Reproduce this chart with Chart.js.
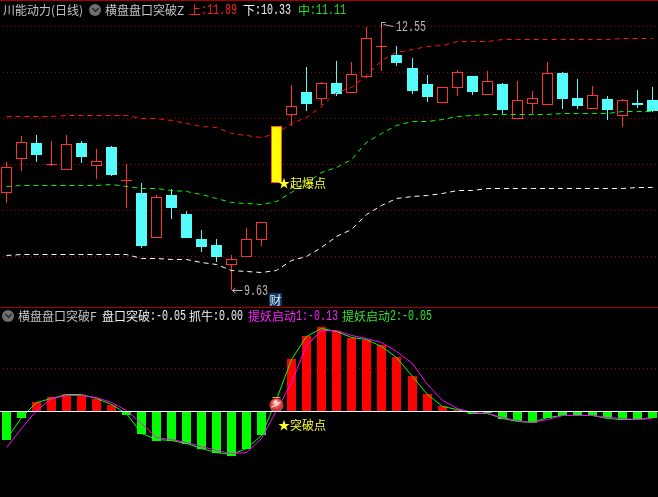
<!DOCTYPE html>
<html><head><meta charset="utf-8">
<script src="https://cdn.jsdelivr.net/npm/chart.js@4"></script>
<style>
html,body{margin:0;padding:0;background:#000;width:658px;height:497px;overflow:hidden}
canvas{position:absolute;left:-2px;display:block}
.t{position:absolute;font:12px/14px "Noto Sans CJK SC",sans-serif;white-space:pre}
.m{font:14px/14px "Liberation Mono",monospace;transform:scaleX(.715);transform-origin:0 50%}
.rule{position:absolute;left:0;width:658px;height:1px;background:#a80000}
.ico{position:absolute;width:12px;height:12px;border-radius:50%;background:#6e6e6e}
.ico:after{content:"";position:absolute;left:3.5px;top:2px;width:4px;height:4px;border-right:1.4px solid #111;border-bottom:1.4px solid #111;transform:rotate(45deg)}
</style></head><body>
<canvas id="price" width="664" height="307" style="top:0"></canvas>
<canvas id="osc" width="664" height="189" style="top:308px"></canvas>
<div class="rule" style="top:0"></div><div class="rule" style="top:307px"></div>

<span class="t" style="left:3px;top:3px;color:#c4c4c4">川能动力(日线)</span>
<div class="ico" style="left:89px;top:4px"></div>
<span class="t" style="left:105px;top:3px;color:#c4c4c4">横盘盘口突破Z</span>
<span class="t" style="left:189px;top:3px;color:#ff2020">上</span><span class="t m" style="left:201px;top:3px;color:#ff2020">:11.89</span>
<span class="t" style="left:243px;top:3px;color:#f0f0f0">下</span><span class="t m" style="left:255px;top:3px;color:#f0f0f0">:10.33</span>
<span class="t" style="left:298px;top:3px;color:#20e020">中</span><span class="t m" style="left:310px;top:3px;color:#20e020">:11.11</span>
<span class="t m" style="left:396px;top:20px;color:#b8b8b8">12.55</span>
<span class="t m" style="left:244px;top:284px;color:#b8b8b8">9.63</span>
<span class="t" style="left:269px;top:293px;width:13px;height:13px;line-height:13px;text-align:center;background:#0a3a6e;color:#e8e8e8">财</span>
<span class="t" style="left:278px;top:176px;color:#ffff30">★起爆点</span>

<div class="ico" style="left:2px;top:310px"></div>
<span class="t" style="left:18px;top:309px;color:#c4c4c4">横盘盘口突破F</span>
<span class="t" style="left:102px;top:309px;color:#f0f0f0">盘口突破</span><span class="t m" style="left:150px;top:309px;color:#f0f0f0">:-0.05</span>
<span class="t" style="left:189px;top:309px;color:#f0f0f0">抓牛</span><span class="t m" style="left:213px;top:309px;color:#f0f0f0">:0.00</span>
<span class="t" style="left:248px;top:309px;color:#ff20ff">提妖启动</span><span class="t m" style="left:296px;top:309px;color:#ff20ff">1:-0.13</span>
<span class="t" style="left:342px;top:309px;color:#30e030">提妖启动</span><span class="t m" style="left:390px;top:309px;color:#30e030">2:-0.05</span>
<span class="t" style="left:278px;top:418px;color:#ffff30">★突破点</span>

<script>
const highs =[11.03,11.31,11.32,11.25,11.32,11.25,11.17,11.20,11.00,10.80,10.67,10.73,10.49,10.29,10.19,10.01,10.31,10.37,11.42,11.86,12.06,11.90,12.12,12.11,12.49,12.55,12.29,12.16,11.97,11.84,12.03,11.96,12.01,11.88,11.91,11.80,12.11,12.00,11.93,11.85,11.74,11.71,11.81,11.84];
const lows  =[10.58,10.93,11.03,10.98,10.94,11.01,10.84,10.87,10.53,10.09,10.20,10.41,10.20,10.05,9.94,9.63,9.99,10.11,10.80,11.42,11.58,11.64,11.74,11.77,11.94,12.01,12.07,11.76,11.68,11.67,11.74,11.75,11.75,11.55,11.49,11.55,11.64,11.60,11.60,11.60,11.48,11.41,11.61,11.57];
const opens =[10.69,11.06,11.23,11.00,10.94,11.23,10.98,11.19,10.83,10.69,10.20,10.67,10.46,10.19,10.12,9.91,9.99,10.18,10.80,11.54,11.79,11.71,11.88,11.77,11.95,12.29,12.19,12.05,11.87,11.67,11.83,11.96,11.75,11.87,11.49,11.66,11.65,11.99,11.72,11.60,11.71,11.53,11.67,11.70];
const closes=[10.97,11.24,11.10,11.00,11.22,11.08,11.04,10.88,10.83,10.11,10.65,10.53,10.20,10.10,9.99,9.97,10.19,10.37,11.42,11.63,11.66,11.88,11.76,11.98,12.37,12.29,12.10,11.80,11.73,11.84,12.00,11.79,11.91,11.59,11.70,11.72,11.99,11.71,11.63,11.75,11.59,11.70,11.65,11.58];
const upperBand=[11.52,11.52,11.52,11.52,11.53,11.53,11.53,11.53,11.53,11.50,11.50,11.48,11.44,11.41,11.40,11.33,11.31,11.29,11.33,11.44,11.51,11.63,11.78,11.84,11.97,12.13,12.22,12.25,12.28,12.29,12.33,12.34,12.34,12.36,12.36,12.36,12.36,12.36,12.36,12.36,12.36,12.37,12.37,12.37];
const middleBand=[10.76,10.77,10.77,10.77,10.77,10.77,10.77,10.78,10.76,10.74,10.74,10.72,10.70,10.67,10.63,10.58,10.57,10.56,10.60,10.69,10.79,10.91,10.97,11.05,11.24,11.34,11.42,11.46,11.47,11.49,11.52,11.53,11.54,11.54,11.54,11.54,11.54,11.55,11.55,11.55,11.55,11.57,11.57,11.57];
const lowerBand=[10.01,10.02,10.02,10.02,10.02,10.02,10.02,10.02,10.02,9.98,9.98,9.97,9.96,9.93,9.91,9.85,9.83,9.82,9.85,9.95,10.00,10.10,10.21,10.29,10.45,10.55,10.63,10.65,10.66,10.68,10.71,10.72,10.74,10.74,10.74,10.74,10.74,10.74,10.74,10.74,10.74,10.74,10.75,10.75];
const histogram=[-0.239,-0.058,0.075,0.117,0.147,0.139,0.103,0.05,-0.033,-0.192,-0.25,-0.244,-0.269,-0.317,-0.35,-0.375,-0.311,-0.2,0.05,0.433,0.625,0.7,0.669,0.614,0.597,0.55,0.45,0.292,0.142,0.042,0.014,-0.025,-0.017,-0.064,-0.083,-0.1,-0.053,-0.036,-0.039,-0.039,-0.058,-0.072,-0.067,-0.056];
const lineGreen=[-0.236,-0.053,0.075,0.106,0.139,0.139,0.111,0.056,-0.014,-0.186,-0.236,-0.242,-0.264,-0.308,-0.344,-0.361,-0.311,-0.2,0.103,0.431,0.625,0.692,0.669,0.614,0.597,0.542,0.447,0.292,0.142,0.042,0.019,-0.019,-0.019,-0.061,-0.081,-0.094,-0.047,-0.033,-0.036,-0.036,-0.058,-0.069,-0.067,-0.053];
const lineMagenta=[-0.297,-0.144,0.008,0.106,0.133,0.136,0.117,0.078,0.008,-0.103,-0.214,-0.236,-0.261,-0.289,-0.325,-0.35,-0.339,-0.228,0.008,0.244,0.55,0.675,0.675,0.636,0.606,0.572,0.503,0.397,0.225,0.092,0.028,-0.006,-0.019,-0.047,-0.075,-0.089,-0.069,-0.033,-0.036,-0.036,-0.05,-0.061,-0.069,-0.061];
const priceTicks=[10,10.5,11,11.5,12,12.5];
const oscTicks=[0.356];
const breakoutIndex=18;
const categories=highs.map((_,i)=>String(i+1));

const RED='#ff3232',CYAN='#54fcfc',GRID='#a00000';
const isUp=i=>closes[i]>=opens[i];
const wickColors=categories.map((_,i)=>isUp(i)?RED:CYAN);
const bodyFill=categories.map((_,i)=>isUp(i)?'#000':CYAN);

const snap={id:'snap',beforeDatasetDraw(chart,args){
  const meta=args.meta;
  meta.data.forEach(el=>{
    el.x=Math.floor(el.x)+.5;
    if(meta.type==='bar'){
      const a=Math.round(el.y),b=Math.round(el.base);
      el.y=a;el.base=(a===b)?a+1:b;
    }else{el.y=Math.floor(el.y)+.5;}
  });
}};
const marks={id:'marks',afterDatasetsDraw(chart){
  const c=chart.ctx,xs=chart.scales.x,ys=chart.scales.y;
  const hi=highs.indexOf(Math.max(...highs)),lo=lows.indexOf(Math.min(...lows));
  const hx=Math.floor(xs.getPixelForValue(hi))-1.5,hy=Math.round(ys.getPixelForValue(highs[hi]));
  const lx=Math.floor(xs.getPixelForValue(lo))-.5,ly=Math.round(ys.getPixelForValue(lows[lo]));
  c.save();c.strokeStyle='#b8b8b8';c.lineWidth=1;c.beginPath();
  c.moveTo(hx+2,hy+.5);c.lineTo(hx+6,hy+.5);c.moveTo(hx+2,hy+.5);c.lineTo(hx+2,hy+5);
  c.moveTo(hx+4,hy+2.5);c.lineTo(hx+14,hy+4.5);
  c.moveTo(lx+2,ly+.5);c.lineTo(lx+12,ly+.5);c.moveTo(lx+2,ly+.5);c.lineTo(lx+5,ly-2);c.moveTo(lx+2,ly+.5);c.lineTo(lx+5,ly+3);
  c.stroke();c.restore();
}};
const ball={id:'ball',afterDatasetsDraw(chart){
  const c=chart.ctx,x=Math.floor(chart.scales.x.getPixelForValue(breakoutIndex))+.5;
  const y=chart.scales.y.getPixelForValue(0)-6.5;
  c.save();
  c.strokeStyle='#e0b060';c.beginPath();c.moveTo(x-4,y-7.5);c.lineTo(x+4,y-7.5);c.stroke();
  const g=c.createRadialGradient(x-1,y-3,1,x,y,7.5);
  g.addColorStop(0,'#ffe8e0');g.addColorStop(.35,'#f06060');g.addColorStop(.8,'#d02828');g.addColorStop(1,'#a88888');
  c.fillStyle=g;c.beginPath();c.arc(x,y,7,0,Math.PI*2);c.fill();
  c.strokeStyle='rgba(255,255,255,.75)';c.lineWidth=1.4;c.beginPath();c.moveTo(x-5,y+2);c.quadraticCurveTo(x,y+1,x+4,y-3);c.stroke();
  c.restore();
}};
const base=()=>({
  responsive:false,animation:false,devicePixelRatio:1,
  events:[],
  layout:{padding:{left:.685,right:1.995,top:0,bottom:0}},
  plugins:{legend:{display:false},tooltip:{enabled:false},title:{display:false}}
});
const yScale=(min,max,ticks)=>({
  min,max,display:true,
  afterBuildTicks:a=>{a.ticks=ticks.map(v=>({value:v}));},
  ticks:{display:false,padding:0},
  border:{display:false,dash:[1,3]},
  grid:{color:GRID,lineWidth:1,drawTicks:false,tickLength:0}
});
const line=(data,color,order,dash)=>({type:'line',data,borderColor:color,borderWidth:1,pointRadius:0,tension:0,fill:false,order,borderDash:dash||[],spanGaps:true});

new Chart(document.getElementById('price'),{
  data:{labels:categories,datasets:[
    {type:'bar',data:highs.map((h,i)=>[lows[i],h]),backgroundColor:wickColors,barThickness:1,grouped:false,order:6,inflateAmount:0},
    {type:'bar',data:opens.map((o,i)=>[o,closes[i]]),backgroundColor:bodyFill,borderColor:wickColors,borderWidth:1,borderSkipped:false,barThickness:11,grouped:false,order:5,inflateAmount:0},
    line(upperBand,'#ff1414',3,[5,4]),
    line(middleBand,'#00ff00',3,[5,4]),
    line(lowerBand,'#ffffff',3,[5,4]),
    {type:'bar',data:opens.map((o,i)=>i===breakoutIndex?[o,closes[i]]:null),backgroundColor:'#ffff00',borderColor:'#ff5a20',borderWidth:1,borderSkipped:false,barThickness:11,grouped:false,order:1,inflateAmount:0}
  ]},
  options:{...base(),scales:{x:{display:false},y:yScale(9.449,12.786,priceTicks)}},
  plugins:[snap,marks]
});
new Chart(document.getElementById('osc'),{
  data:{labels:categories,datasets:[
    {type:'bar',data:histogram,backgroundColor:histogram.map(v=>v>=0?'#ff0000':'#00ff00'),barThickness:9,grouped:false,order:5,inflateAmount:0},
    line(lineGreen,'#00ff00',3),
    line(lineMagenta,'#ff00ff',2)
  ]},
  options:{...base(),scales:{
    x:{position:{y:0},ticks:{display:false},grid:{display:false,drawTicks:false},border:{display:true,color:'#ffffff',width:1,z:1}},
    y:yScale(-0.713,0.862,oscTicks)}},
  plugins:[snap,ball]
});
</script>
</body></html>
